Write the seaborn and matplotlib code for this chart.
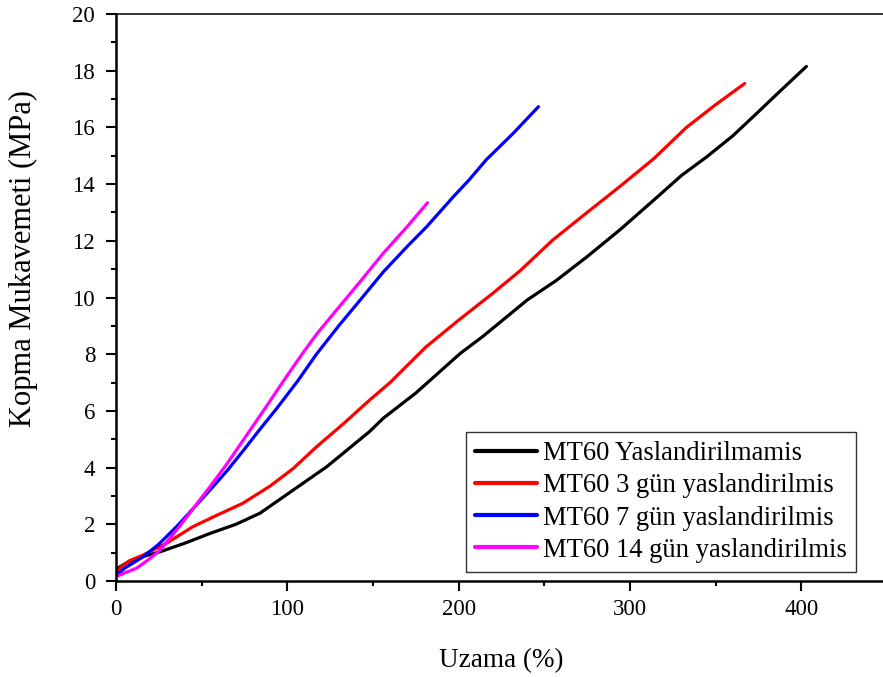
import numpy as np
import pandas as pd
import matplotlib
matplotlib.use("Agg")
import matplotlib.pyplot as plt
from matplotlib.ticker import MultipleLocator
import seaborn as sns

labels = ["MT60 Yaslandirilmamis", "MT60 3 gün yaslandirilmis",
          "MT60 7 gün yaslandirilmis", "MT60 14 gün yaslandirilmis"]
colors = ["#000000", "#ff0000", "#0000ff", "#ff00ff"]

x_black = [0, 0.5, 2.3, 8, 15, 25.7, 40, 55, 70, 84, 103.5, 123, 148, 156, 175,
           201, 214, 240, 257, 275, 294, 314, 330, 345, 360, 372, 388, 403]
y_black = [0.3, 0.42, 0.5, 0.7, 0.85, 1.03, 1.33, 1.68, 2.0, 2.39, 3.21, 4.03, 5.27,
           5.74, 6.63, 8.03, 8.62, 9.91, 10.6, 11.44, 12.38, 13.44, 14.3, 14.97,
           15.7, 16.38, 17.3, 18.15]

x_red = [0, 3, 8, 16, 30, 45, 60, 74, 90, 103.5, 117, 133, 148, 160, 175, 181,
         200, 220, 236, 255, 275, 294, 314, 333, 350, 367]
y_red = [0.2, 0.5, 0.72, 0.92, 1.35, 1.92, 2.35, 2.74, 3.35, 3.97, 4.73, 5.56,
         6.38, 7.0, 7.9, 8.26, 9.2, 10.15, 10.95, 12.03, 13.0, 13.91, 14.9, 16.0,
         16.8, 17.55]

x_blue = [0, 5, 16, 25, 35.4, 45, 54.9, 65, 74.3, 84, 94, 106, 117, 130, 142.4,
          156, 170, 181.4, 197, 206, 216, 232, 246.6]
y_blue = [0.2, 0.45, 0.86, 1.3, 1.92, 2.55, 3.21, 3.9, 4.6, 5.35, 6.1, 7.05, 8.0,
          9.0, 9.9, 10.9, 11.8, 12.5, 13.56, 14.14, 14.85, 15.8, 16.73]

x_mag = [0, 4.3, 12, 20, 25.7, 35.4, 45, 54.9, 65, 74.3, 86, 97.7, 108, 117, 130,
         142.4, 156, 170, 181.8]
y_mag = [0.15, 0.27, 0.45, 0.8, 1.09, 1.8, 2.55, 3.33, 4.15, 4.97, 6.0, 7.05, 7.95,
         8.7, 9.65, 10.55, 11.56, 12.5, 13.34]

frames = []
for lab, xs, ys in zip(labels, [x_black, x_red, x_blue, x_mag],
                       [y_black, y_red, y_blue, y_mag]):
    frames.append(pd.DataFrame({"Uzama": xs, "Kopma": ys, "Seri": lab}))
df = pd.concat(frames, ignore_index=True)

sns.set_style("ticks")
plt.rcParams["font.family"] = ["Liberation Serif", "DejaVu Serif"]
plt.rcParams["text.color"] = "black"
plt.rcParams["axes.labelcolor"] = "black"
plt.rcParams["xtick.color"] = "black"
plt.rcParams["ytick.color"] = "black"

fig = plt.figure(figsize=(8.83, 6.77), dpi=100)
ax = fig.add_axes([116 / 883, 96 / 677, 770.9 / 883, 567 / 677])

sns.lineplot(data=df, x="Uzama", y="Kopma", hue="Seri", hue_order=labels,
             palette=colors, sort=False, estimator=None, linewidth=2.3, ax=ax)

ax.set_xlim(0, 450)
ax.set_ylim(0, 20)
ax.xaxis.set_major_locator(MultipleLocator(100))
ax.xaxis.set_minor_locator(MultipleLocator(50))
ax.yaxis.set_major_locator(MultipleLocator(2))
ax.yaxis.set_minor_locator(MultipleLocator(1))
ax.tick_params(which="major", direction="out", length=7, width=1.5,
               labelsize=16.5, colors="black", pad=6)
ax.tick_params(which="minor", direction="out", length=3.6, width=1.5)
ax.tick_params(axis="y", which="major", pad=8)

for s in ["left", "bottom"]:
    ax.spines[s].set_linewidth(1.8)
    ax.spines[s].set_color("black")
ax.spines["top"].set_linewidth(1.1)
ax.spines["top"].set_color("black")
ax.spines["right"].set_visible(False)

ax.set_xlabel("Uzama (%)", fontsize=19.5, labelpad=20)
ax.set_ylabel("Kopma Mukavemeti (MPa)", fontsize=22)
ax.yaxis.set_label_coords(-0.101, 0.568)

leg = ax.legend(loc="upper left", bbox_to_anchor=(0.454, 0.263),
                borderaxespad=0, fontsize=19.2, frameon=True, fancybox=False,
                edgecolor="black", handlelength=2.3, handletextpad=0.22,
                labelspacing=0.27, borderpad=0.35, title=None)
leg.get_frame().set_linewidth(1.0)
for line in leg.get_lines():
    line.set_linewidth(3.0)

fig.savefig("out.png", dpi=100)
